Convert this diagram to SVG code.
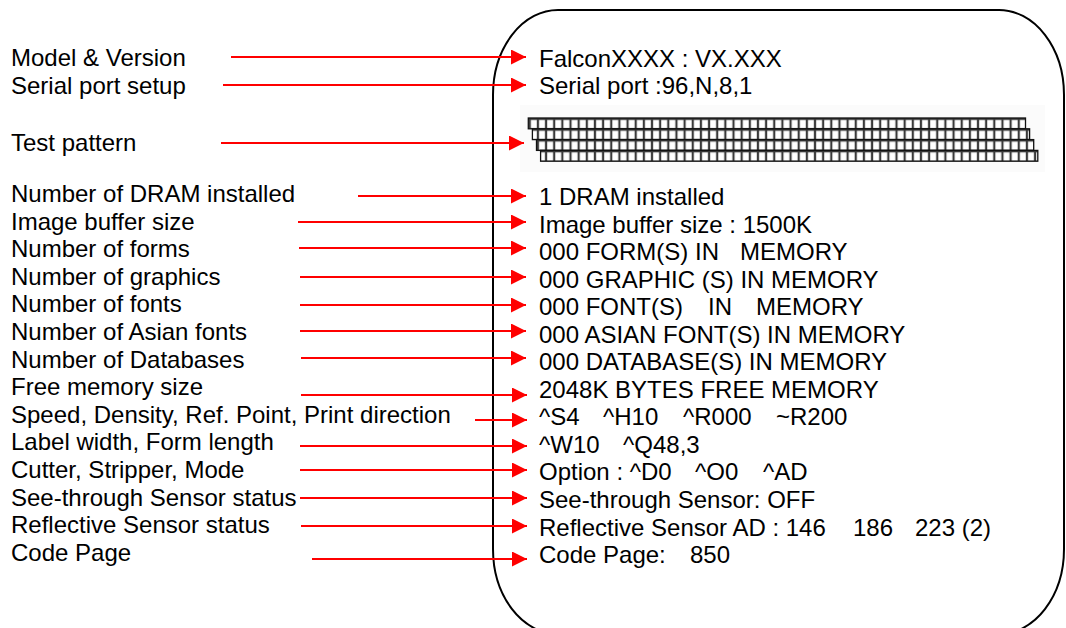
<svg xmlns="http://www.w3.org/2000/svg" width="1066" height="628" viewBox="0 0 1066 628">
<style>
text{font-family:"Liberation Sans",Arial,sans-serif;font-size:24px;fill:#000;white-space:pre}
.conn line{stroke:#ff0000;stroke-width:2;marker-end:url(#ah)}
.row{fill:url(#cell);stroke:#111;stroke-width:1.3}
</style>
<defs>
<marker id="ah" markerUnits="userSpaceOnUse" markerWidth="16" markerHeight="16" refX="15" refY="7.5" orient="auto">
<path d="M0,0 L15,7.5 L0,15 Z" fill="#ff0000"/>
</marker>
<pattern id="cell" patternUnits="userSpaceOnUse" width="8.15" height="10.8">
<rect width="8.15" height="10.8" fill="#3a3a3a"/>
<rect x="1.1" y="1.2" width="5.95" height="8.4" fill="#fff"/>
</pattern>
</defs>
<rect width="1066" height="628" fill="#fff"/>
<g id="printout">
<rect x="493" y="10" width="571" height="624" rx="65" ry="85" fill="none" stroke="#000" stroke-width="2"/>
</g>
<g id="labels">
<g id="lbl-model"><text x="11" y="66">Model &amp; Version</text></g>
<g id="lbl-serial"><text x="11" y="94">Serial port setup</text></g>
<g id="lbl-test"><text x="11" y="151">Test pattern</text></g>
<g id="lbl-dram"><text x="11" y="202">Number of DRAM installed</text></g>
<g id="lbl-buffer"><text x="11" y="229.6">Image buffer size</text></g>
<g id="lbl-forms"><text x="11" y="257.2">Number of forms</text></g>
<g id="lbl-graphics"><text x="11" y="284.8">Number of graphics</text></g>
<g id="lbl-fonts"><text x="11" y="312.4">Number of fonts</text></g>
<g id="lbl-asian"><text x="11" y="340">Number of Asian fonts</text></g>
<g id="lbl-db"><text x="11" y="367.6">Number of Databases</text></g>
<g id="lbl-free"><text x="11" y="395.2">Free memory size</text></g>
<g id="lbl-speed"><text x="11" y="422.8">Speed, Density, Ref. Point, Print direction</text></g>
<g id="lbl-width"><text x="11" y="450.4">Label width, Form length</text></g>
<g id="lbl-cutter"><text x="11" y="478">Cutter, Stripper, Mode</text></g>
<g id="lbl-see"><text x="11" y="505.6">See-through Sensor status</text></g>
<g id="lbl-refl"><text x="11" y="533.2">Reflective Sensor status</text></g>
<g id="lbl-code"><text x="11" y="560.8">Code Page</text></g>
</g>
<g id="values">
<g id="val-model"><text x="539" y="67">FalconXXXX : VX.XXX</text></g>
<g id="val-serial"><text x="539" y="94">Serial port :96,N,8,1</text></g>
<g id="val-test">
<rect x="520" y="105" width="525" height="67" fill="#fbfbfb"/>
<rect class="row" x="528.3" y="118" width="497.2" height="10.8"/>
<rect class="row" x="532.4" y="128.8" width="497.2" height="10.8"/>
<rect class="row" x="536.5" y="139.6" width="497.2" height="10.8"/>
<rect class="row" x="540.6" y="150.4" width="497.2" height="10.8"/>
</g>
<g id="val-dram"><text x="539" y="205">1 DRAM installed</text></g>
<g id="val-buffer"><text x="539" y="232.5">Image buffer size : 1500K</text></g>
<g id="val-forms"><text x="539" y="260.1"><tspan>000 FORM(S) IN   </tspan><tspan x="740">MEMORY</tspan></text></g>
<g id="val-graphics"><text x="539" y="287.6">000 GRAPHIC (S) IN MEMORY</text></g>
<g id="val-fonts"><text x="539" y="315.2"><tspan>000 FONT(S)    </tspan><tspan x="708">IN    </tspan><tspan x="756">MEMORY</tspan></text></g>
<g id="val-asian"><text x="539" y="342.7">000 ASIAN FONT(S) IN MEMORY</text></g>
<g id="val-db"><text x="539" y="370.2">000 DATABASE(S) IN MEMORY</text></g>
<g id="val-free"><text x="539" y="397.8">2048K BYTES FREE MEMORY</text></g>
<g id="val-speed"><text x="539" y="425.3"><tspan>^S4   </tspan><tspan x="603">^H10   </tspan><tspan x="683">^R000   </tspan><tspan x="776">~R200</tspan></text></g>
<g id="val-width"><text x="539" y="452.9"><tspan>^W10   </tspan><tspan x="623">^Q48,3</tspan></text></g>
<g id="val-cutter"><text x="539" y="480.4"><tspan>Option : ^D0   </tspan><tspan x="695">^O0   </tspan><tspan x="763">^AD</tspan></text></g>
<g id="val-see"><text x="539" y="507.9">See-through Sensor: OFF</text></g>
<g id="val-refl"><text x="539" y="535.5"><tspan>Reflective Sensor AD : 146   </tspan><tspan x="853">186   </tspan><tspan x="915">223 (2)</tspan></text></g>
<g id="val-code"><text x="539" y="563"><tspan>Code Page:   </tspan><tspan x="690">850</tspan></text></g>
</g>
<g id="connectors" class="conn">
<line x1="231" y1="57" x2="526" y2="57"/>
<line x1="223" y1="85" x2="526" y2="85"/>
<line x1="221" y1="143" x2="524" y2="143"/>
<line x1="358" y1="196" x2="526" y2="196"/>
<line x1="298" y1="222" x2="526" y2="222"/>
<line x1="299" y1="248" x2="526" y2="248"/>
<line x1="300" y1="277" x2="526" y2="277"/>
<line x1="300" y1="305" x2="526" y2="305"/>
<line x1="300" y1="331" x2="526" y2="331"/>
<line x1="301" y1="358" x2="526" y2="358"/>
<line x1="301" y1="395" x2="527" y2="395"/>
<line x1="475" y1="420" x2="527" y2="420"/>
<line x1="300" y1="446" x2="527" y2="446"/>
<line x1="300" y1="470" x2="527" y2="470"/>
<line x1="300" y1="498" x2="527" y2="498"/>
<line x1="301" y1="526" x2="527" y2="526"/>
<line x1="312" y1="559" x2="527" y2="559"/>
</g>
</svg>
